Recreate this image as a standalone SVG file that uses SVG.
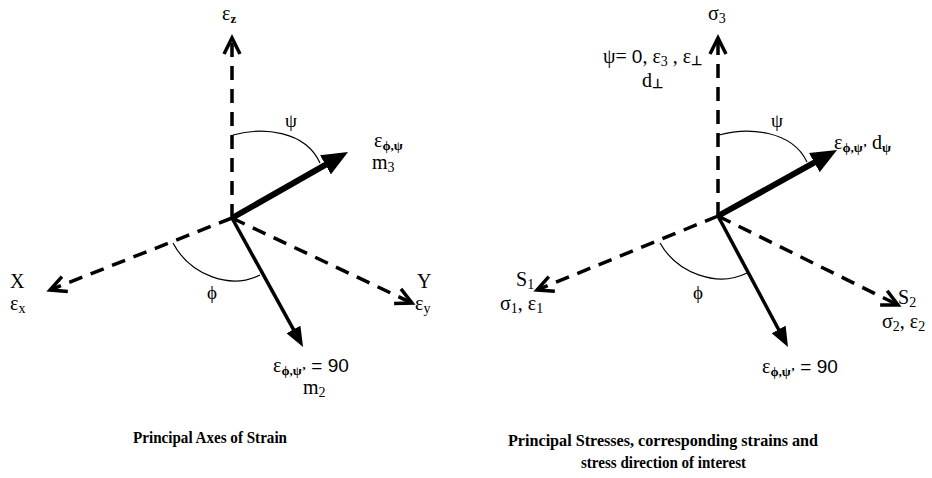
<svg xmlns="http://www.w3.org/2000/svg" width="932" height="478" viewBox="0 0 932 478">
<style>
.ax{fill:none;stroke:#000;stroke-width:3.5;stroke-dasharray:14 9}
.thick{fill:none;stroke:#000;stroke-width:6}
.thin{fill:none;stroke:#000;stroke-width:3.5}
.arc{fill:none;stroke:#000;stroke-width:1.2}
text{font-family:"Liberation Serif","Times New Roman",serif;fill:#000}
.lb{font-size:20px}
.sm{font-size:19px}
.sb{font-size:13px;font-weight:bold}
.sub{font-size:14px}
.num{font-family:"Liberation Sans",Arial,sans-serif;font-size:19px}
.ttl{font-size:17px;font-weight:bold}
</style>
<defs>
<marker id="open" markerUnits="userSpaceOnUse" markerWidth="22" markerHeight="20" refX="18" refY="10" orient="auto" viewBox="0 0 22 20">
<path d="M2,2 L18,10 L2,18" fill="none" stroke="#000" stroke-width="3.5"/>
</marker>
<marker id="big" markerUnits="userSpaceOnUse" markerWidth="26" markerHeight="22" refX="8" refY="11" orient="auto" viewBox="0 0 26 22">
<path d="M0,0 L26,11 L0,22 Z" fill="#000"/>
</marker>
<marker id="small" markerUnits="userSpaceOnUse" markerWidth="20" markerHeight="16" refX="6" refY="8" orient="auto" viewBox="0 0 20 16">
<path d="M0,0 L20,8 L0,16 Z" fill="#000"/>
</marker>
</defs>

<g id="connectors">
<line class="ax" x1="232" y1="218" x2="232" y2="38" marker-end="url(#open)"/>
<line class="ax" x1="232" y1="218" x2="50" y2="290" marker-end="url(#open)"/>
<line class="ax" x1="232" y1="218" x2="412" y2="303" marker-end="url(#open)"/>
<line class="thick" x1="232" y1="218" x2="332.4" y2="160.9" marker-end="url(#big)"/>
<line class="thin" x1="232" y1="218" x2="296.3" y2="334.7" marker-end="url(#small)"/>
<path class="arc" d="M233,135 C262,127 305,130 320,163"/>
<path class="arc" d="M173,243 C190,275 230,290 260,275"/>

<line class="ax" x1="718" y1="216" x2="718" y2="38" marker-end="url(#open)"/>
<line class="ax" x1="718" y1="216" x2="537" y2="290" marker-end="url(#open)"/>
<line class="ax" x1="718" y1="216" x2="898" y2="305" marker-end="url(#open)"/>
<line class="thick" x1="718" y1="216" x2="821.3" y2="158.7" marker-end="url(#big)"/>
<line class="thin" x1="718" y1="216" x2="781.4" y2="334.7" marker-end="url(#small)"/>
<path class="arc" d="M719,135 C748,127 792,130 807,162"/>
<path class="arc" d="M660,243 C677,273 717,288 747,273"/>
</g>

<g id="strain-axes">
<text class="lb" x="222" y="20">ε<tspan class="sb" dy="3">z</tspan></text>
<text class="sm" x="291" y="127" text-anchor="middle">ψ</text>
<text class="lb" x="374" y="147">ε<tspan class="sb" dy="3">ϕ,ψ</tspan></text>
<text class="lb" x="372" y="169">m<tspan class="sub" dy="3">3</tspan></text>
<text class="lb" x="10" y="288">X</text>
<text class="lb" x="10" y="310">ε<tspan class="sub" dy="3">x</tspan></text>
<text class="lb" x="417" y="288">Y</text>
<text class="lb" x="415" y="310">ε<tspan class="sub" dy="3">y</tspan></text>
<text class="sm" x="212" y="299" text-anchor="middle">ϕ</text>
<text class="lb" x="273" y="372">ε<tspan class="sb" dy="3">ϕ,ψ’</tspan><tspan class="num" dy="-3"> = 90</tspan></text>
<text class="lb" x="303" y="394">m<tspan class="sub" dy="3">2</tspan></text>
<text class="ttl" x="133" y="443" textLength="154" lengthAdjust="spacingAndGlyphs">Principal Axes of Strain</text>
</g>

<g id="principal-stresses">
<text class="lb" x="708" y="20">σ<tspan class="sub" dy="3">3</tspan></text>
<text class="lb" x="603" y="63">ψ= <tspan class="num">0</tspan>, ε<tspan class="sub" dy="3">3</tspan><tspan dy="-3"> , ε</tspan><tspan class="sb" dy="2">⊥</tspan></text>
<text class="lb" x="642" y="87">d<tspan class="sb" dy="1">⊥</tspan></text>
<text class="sm" x="777" y="127" text-anchor="middle">ψ</text>
<text class="lb" x="834" y="149">ε<tspan class="sb" dy="3">ϕ,ψ’</tspan><tspan dy="-3"> d</tspan><tspan class="sb" dy="3">ψ</tspan></text>
<text class="lb" x="516" y="286">S<tspan class="sub" dy="3">1</tspan></text>
<text class="lb" x="500" y="310">σ<tspan class="sub" dy="3">1</tspan><tspan dy="-3">, ε</tspan><tspan class="sub" dy="3">1</tspan></text>
<text class="sm" x="698" y="299" text-anchor="middle">ϕ</text>
<text class="lb" x="898" y="304">S<tspan class="sub" dy="3">2</tspan></text>
<text class="lb" x="882" y="328">σ<tspan class="sub" dy="3">2</tspan><tspan dy="-3">, ε</tspan><tspan class="sub" dy="3">2</tspan></text>
<text class="lb" x="762" y="373">ε<tspan class="sb" dy="3">ϕ,ψ’</tspan><tspan class="num" dy="-3"> = 90</tspan></text>
<text class="ttl" x="508" y="446" textLength="310" lengthAdjust="spacingAndGlyphs">Principal Stresses, corresponding strains and</text>
<text class="ttl" x="581" y="468" textLength="165" lengthAdjust="spacingAndGlyphs">stress direction of interest</text>
</g>
</svg>
